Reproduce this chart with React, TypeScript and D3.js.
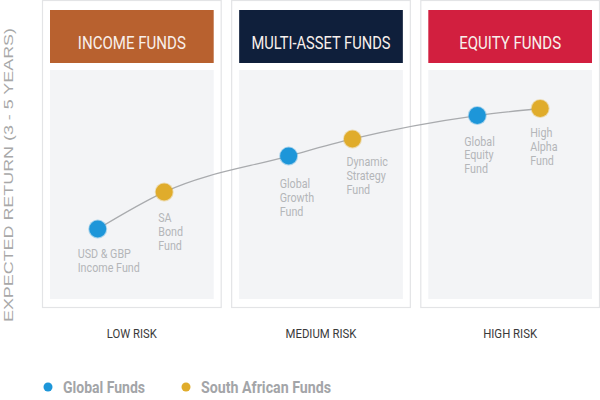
import React from "react";
import * as d3 from "d3";

const categories = ["Income Funds", "Multi-Asset Funds", "Equity Funds"];
const headerTitles = ["INCOME FUNDS", "MULTI-ASSET FUNDS", "EQUITY FUNDS"];
const riskLabels = ["LOW RISK", "MEDIUM RISK", "HIGH RISK"];
const headerColors = ["#b8612f", "#0f1f3b", "#d21f3f"];

const fundNames = [
  ["USD & GBP", "Income Fund"],
  ["SA", "Bond", "Fund"],
  ["Global", "Growth", "Fund"],
  ["Dynamic", "Strategy", "Fund"],
  ["Global", "Equity", "Fund"],
  ["High", "Alpha", "Fund"],
];
const fundCategory = [0, 0, 1, 1, 2, 2];
const fundGroup = ["global", "sa", "global", "sa", "global", "sa"];
// risk position within its category band (0..1)
const fundRisk = [0.31, 0.68, 0.32, 0.675, 0.317, 0.667];
// expected return (relative index)
const fundReturn = [30.6, 46.7, 62.4, 69.9, 80.1, 83.2];

const legendItems = [
  { key: "global", label: "Global Funds" },
  { key: "sa", label: "South African Funds" },
];
const groupColors: Record<string, string> = { global: "#1d96d9", sa: "#e0ac2b" };

// layout / styling (text widths mimic the condensed typeface)
const style = {
  headerWidths: [108, 139, 102],
  riskWidths: [50, 71, 54],
  legendWidths: [82, 130],
  legendX: [48, 186],
  labelDx: [-20, -6, -9, -6, -13, -10],
  labelDy: [29, 30, 32, 27, 30, 29],
};

const W = 600;
const H = 400;
const font = "Roboto, 'Liberation Sans', sans-serif";

export default function App() {
  const band = d3.scaleBand<string>().domain(categories).range([42, 600]).paddingInner(0.05);
  const bw = band.bandwidth();
  const y = d3.scaleLinear().domain([0, 100]).range([299, 70]);

  const pts = fundReturn.map((r, i) => ({
    x: (band(categories[fundCategory[i]]) as number) + fundRisk[i] * bw,
    y: y(r),
    i,
  }));
  const line = d3
    .line<{ x: number; y: number }>()
    .x((d) => d.x)
    .y((d) => d.y)
    .curve(d3.curveMonotoneX);

  return (
    <svg
      width={W}
      height={H}
      style={{ position: "absolute", left: 0, top: 0, background: "#fff" }}
    >
      <defs>
        <filter id="soft" x="-50%" y="-50%" width="200%" height="200%">
          <feGaussianBlur stdDeviation="0.6" />
        </filter>
      </defs>
      {categories.map((c, i) => {
        const x0 = band(c) as number;
        const cx = x0 + bw / 2;
        return (
          <g key={c}>
            <rect x={x0 + 0.5} y={0.5} width={bw - 1} height={307} fill="#fff" stroke="#e3e4e6" strokeWidth={1.2} />
            <rect x={x0 + 8} y={y(100)} width={bw - 16} height={y(0) - y(100)} fill="#f3f4f6" />
            <rect x={x0 + 8} y={10} width={bw - 16} height={53} fill={headerColors[i]} />
            <text
              x={cx - style.headerWidths[i] / 2}
              y={48.5}
              textLength={style.headerWidths[i]}
              lengthAdjust="spacingAndGlyphs"
              fill="#f8f0ec"
              fontFamily={font}
              fontSize={19}
            >
              {headerTitles[i]}
            </text>
            <text
              x={cx - style.riskWidths[i] / 2}
              y={337.5}
              textLength={style.riskWidths[i]}
              lengthAdjust="spacingAndGlyphs"
              fill="#3a3a3a"
              fontFamily={font}
              fontSize={13}
            >
              {riskLabels[i]}
            </text>
          </g>
        );
      })}

      <path d={line(pts) || ""} fill="none" stroke="#a9abae" strokeWidth={1.3} />

      {pts.map((p) => (
        <g key={p.i}>
          <circle cx={p.x} cy={p.y} r={9.5} fill={groupColors[fundGroup[p.i]]} opacity={0.35} filter="url(#soft)" />
          <circle cx={p.x} cy={p.y} r={8.5} fill={groupColors[fundGroup[p.i]]} />
          <g transform={`translate(${p.x + style.labelDx[p.i]},${p.y + style.labelDy[p.i]}) scale(0.86,1)`}>
            <text fill="#b4b6b9" fontFamily={font} fontSize={12.5}>
              {fundNames[p.i].map((t, k) => (
                <tspan key={k} x={0} dy={k === 0 ? 0 : 13.8}>
                  {t}
                </tspan>
              ))}
            </text>
          </g>
        </g>
      ))}

      <g transform="translate(13,322) rotate(-90)">
        <text
          x={0}
          y={0}
          textLength={294}
          lengthAdjust="spacingAndGlyphs"
          fill="#a8a8a8"
          fontFamily="'Liberation Sans', Arial, sans-serif"
          fontSize={13.5}
        >
          EXPECTED RETURN (3 - 5 YEARS)
        </text>
      </g>

      {legendItems.map((l, i) => {
        const lx = style.legendX[i];
        return (
          <g key={l.key}>
            <circle cx={lx} cy={387} r={4.5} fill={groupColors[l.key]} />
            <text
              x={lx + 15}
              y={393}
              textLength={style.legendWidths[i]}
              lengthAdjust="spacingAndGlyphs"
              fill="#a3a5a8"
              fontFamily={font}
              fontWeight="bold"
              fontSize={16}
            >
              {l.label}
            </text>
          </g>
        );
      })}
    </svg>
  );
}
